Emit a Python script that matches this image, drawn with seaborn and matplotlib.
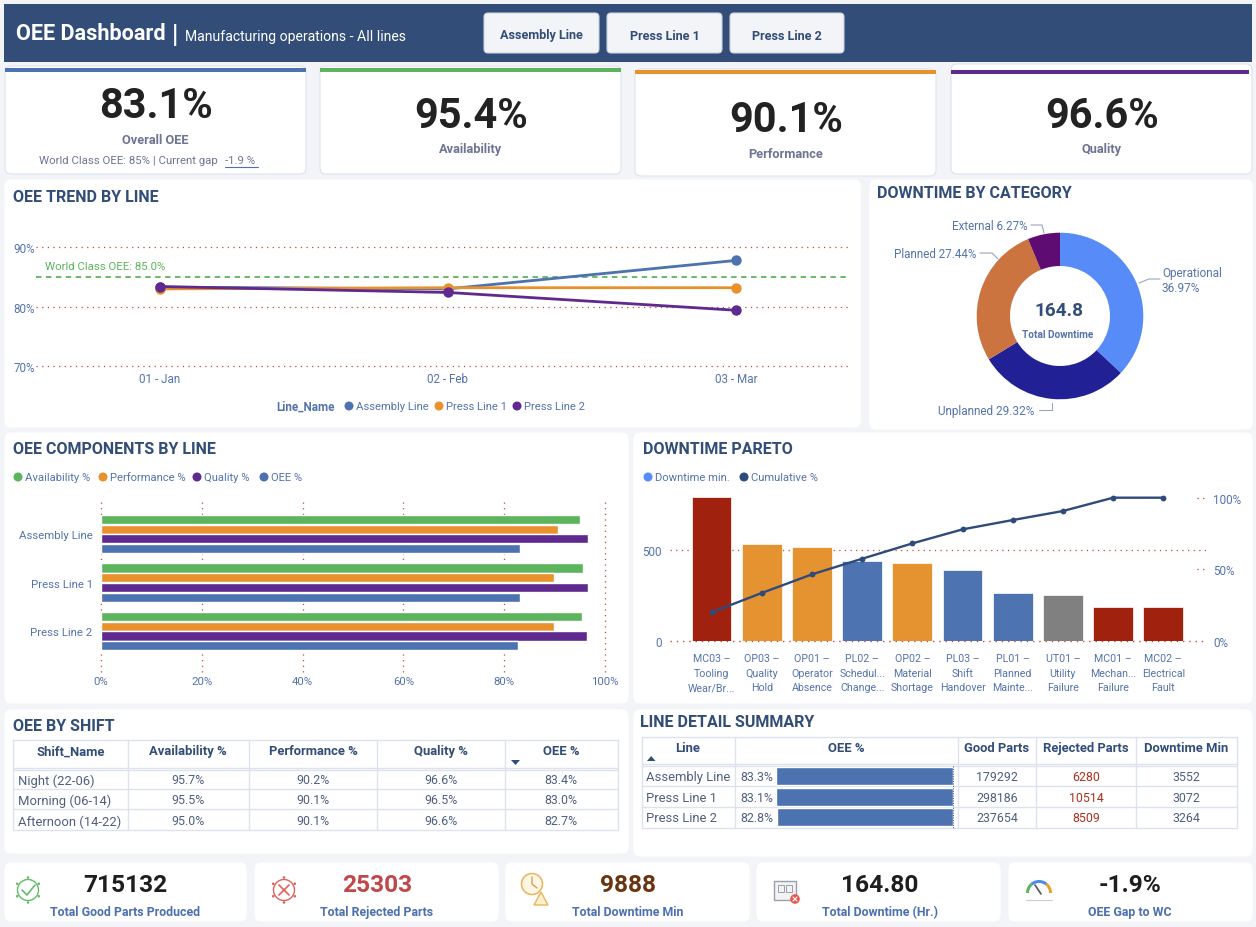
import pandas as pd
import numpy as np
import matplotlib
matplotlib.use("Agg")
import matplotlib.pyplot as plt
from matplotlib.patches import FancyBboxPatch, Rectangle, Circle, Wedge, Polygon
import seaborn as sns

# Dados
linhas = ["Assembly Line", "Press Line 1", "Press Line 2"]
meses = ["01 - Jan", "02 - Feb", "03 - Mar"]
oee_assembly = [83.3, 83.0, 87.8]
oee_press1 = [83.0, 83.2, 83.2]
oee_press2 = [83.4, 82.4, 79.4]
world_class = 85.0

componentes = ["Availability %", "Performance %", "Quality %", "OEE %"]
disponibilidade = [95.0, 95.7, 95.4]
performance = [90.7, 89.9, 89.8]
qualidade = [96.6, 96.6, 96.5]
oee_linha = [83.2, 83.1, 82.8]

categorias_down = ["Operational", "Unplanned", "Planned", "External"]
down_pct = [36.97, 29.32, 27.44, 6.27]

causas = ["MC03 –\nTooling\nWear/Br...", "OP03 –\nQuality\nHold", "OP01 –\nOperator\nAbsence",
          "PL02 –\nSchedul...\nChange...", "OP02 –\nMaterial\nShortage", "PL03 –\nShift\nHandover",
          "PL01 –\nPlanned\nMainte...", "UT01 –\nUtility\nFailure", "MC01 –\nMechan...\nFailure",
          "MC02 –\nElectrical\nFault"]
causa_tipo = ["Unplanned", "Operational", "Operational", "Planned", "Operational", "Planned",
              "Planned", "External", "Unplanned", "Unplanned"]
down_min = [792, 536, 516, 441, 428, 391, 264, 251, 189, 189]
acumulado = [20, 33.5, 46.5, 57.4, 68.1, 77.9, 84.4, 90.7, 100, 100]

turno_header = ["Shift_Name", "Availability %", "Performance %", "Quality %", "OEE %"]
turnos = ["Night (22-06)", "Morning (06-14)", "Afternoon (14-22)"]
turno_disp = ["95.7%", "95.5%", "95.0%"]
turno_perf = ["90.2%", "90.1%", "90.1%"]
turno_qual = ["96.6%", "96.5%", "96.6%"]
turno_oee = ["83.4%", "83.0%", "82.7%"]

detalhe_oee = [83.3, 83.1, 82.8]
detalhe_bons = [179292, 298186, 237654]
detalhe_rej = [6280, 10514, 8509]
detalhe_down = [3552, 3072, 3264]

# Cores
FUNDO = "#F3F4F8"
NAVY = "#324D77"
AZUL = "#4C72B0"
TEXTO = "#5573AC"
LARANJA = "#E8912D"
ROXO = "#5F2A8F"
VERDE = "#5CB45C"
GRADE = "#C8473A"
BORDA = "#DDE3EE"
CINZA = "#6E7592"

sns.set_theme(style="white")
plt.rcParams["font.family"] = ["Roboto", "DejaVu Sans"]

fig = plt.figure(figsize=(12.56, 9.28), dpi=100, facecolor=FUNDO)

# Camada de fundo em pixels
bg = fig.add_axes([0, 0, 1, 1], zorder=0)
bg.set_xlim(0, 1256)
bg.set_ylim(927, -1)
bg.axis("off")


def px(v):
    return v * 0.72


def texto(x, y, s, size=12, color=TEXTO, weight="normal", ha="center", **kw):
    return bg.text(x, y, s, fontsize=px(size), color=color, fontweight=weight, ha=ha, va="center", **kw)


def painel(x0, y0, x1, y1, cor="white", borda=None, r=6):
    bg.add_patch(FancyBboxPatch((x0, y0), x1 - x0, y1 - y0, boxstyle=f"round,pad=0,rounding_size={r}",
                                fc=cor, ec=borda if borda else cor, lw=0.8))


def eixo(x0, y0, x1, y1):
    a = fig.add_axes([x0 / 1256, 1 - y1 / 928, (x1 - x0) / 1256, (y1 - y0) / 928], zorder=2)
    a.patch.set_alpha(0)
    sns.despine(ax=a, left=True, bottom=True)
    return a


def legenda(y, itens):
    for x, cor, nome in itens:
        bg.add_patch(Circle((x, y), 4.5, fc=cor, ec="none"))
        texto(x + 7, y, nome, size=11.3, ha="left")


# Cabecalho
bg.add_patch(Rectangle((4, 4), 1248, 58, fc=NAVY, ec="none"))
texto(16, 33, "OEE Dashboard", size=21.7, color="white", weight="bold", ha="left")
texto(172, 35, "|", size=25, color="white", weight="bold", ha="left")
texto(185, 36, "Manufacturing operations - All lines", size=14, color="white", ha="left")
for x0, x1, nome in [(484, 599, linhas[0]), (607, 722, linhas[1]), (730, 844, linhas[2])]:
    painel(x0, 13, x1, 53, cor=FUNDO, borda="#C9D2E3", r=4)
    texto((x0 + x1) / 2, 35, nome, size=12.6, color=NAVY, weight="bold")

# Cartoes KPI
kpis = [(5, 66, 306, 174, 68, AZUL, "83.1%", 105, "Overall OEE", 140),
        (320, 66, 621, 174, 68, VERDE, "95.4%", 116, "Availability", 149),
        (635, 69, 936, 176, 70, LARANJA, "90.1%", 120, "Performance", 154),
        (951, 64, 1252, 174, 70, ROXO, "96.6%", 116, "Quality", 149)]
for x0, y0, x1, y1, yb, cor, valor, yv, nome, yn in kpis:
    painel(x0, y0, x1, y1, borda=BORDA)
    bg.add_patch(Rectangle((x0, yb), x1 - x0 - (3 if x0 > 900 else 0), 3.5, fc=cor, ec="none"))
    texto((x0 + x1) / 2 + 0.5, yv, valor, size=41.5, color="#222222", weight="bold")
    texto((x0 + x1) / 2, yn, nome, size=12.8, color=CINZA, weight="bold")
texto(39, 160, "World Class OEE: 85% | Current gap", size=11.4, color=CINZA, ha="left")
texto(225, 160, "-1.9 %", size=11.4, color=CINZA, ha="left")
bg.plot([225, 258], [167, 167], color=AZUL, lw=0.8)

# Paineis
for p in [(5, 180, 860, 427), (870, 180, 1252, 429), (5, 433, 628, 703), (634, 433, 1252, 703),
          (5, 710, 628, 853), (634, 710, 1252, 856)]:
    painel(*p)
for x, y, nome in [(13, 196, "OEE TREND BY LINE"), (877, 192, "DOWNTIME BY CATEGORY"),
                   (13, 449, "OEE COMPONENTS BY LINE"), (643, 449, "DOWNTIME PARETO"),
                   (13, 726, "OEE BY SHIFT"), (640, 722, "LINE DETAIL SUMMARY")]:
    texto(x, y, nome, size=16, color=NAVY, weight="bold", ha="left")

# Tendencia OEE
df_trend = pd.DataFrame({
    "mes": meses * 3,
    "oee": oee_assembly + oee_press1 + oee_press2,
    "linha": np.repeat(linhas, 3),
})
ax = eixo(36, 230, 850, 367)
sns.lineplot(data=df_trend, x="mes", y="oee", hue="linha", palette=[AZUL, LARANJA, ROXO], sort=False,
             marker="o", markersize=7.5, markeredgewidth=0, linewidth=2, legend=False, ax=ax, zorder=3)
ax.set_xlim(-0.43, 2.396)
ax.set_ylim(70, 93.1)
ax.set_yticks([70, 80, 90], ["70%", "80%", "90%"])
ax.set_xlabel("")
ax.set_ylabel("")
ax.tick_params(length=0, labelsize=px(11.6), labelcolor=TEXTO)
ax.tick_params(axis="y", pad=1)
ax.tick_params(axis="x", pad=4)
for v in [70, 80, 90]:
    ax.axhline(v, color=GRADE, lw=0.9, ls=(0, (1, 3.5)), zorder=1, clip_on=False)
ax.axhline(world_class, color=VERDE, lw=1.3, ls=(0, (3, 2.5)), zorder=2)
texto(45, 266, f"World Class OEE: {world_class:.1f}%", size=11.4, color=VERDE, ha="left")
texto(276, 406, "Line_Name", size=11.6, weight="bold", ha="left")
legenda(406, [(349, AZUL, linhas[0]), (439, LARANJA, linhas[1]), (517, ROXO, linhas[2])])

# Rosca
ax = eixo(960, 217, 1160, 417)
ax.pie(down_pct, startangle=90, counterclock=False, radius=83.3 / 100,
       colors=["#568BF8", "#222095", "#CB7440", "#5E0B72"],
       wedgeprops={"width": 33.3 / 100, "edgecolor": "none"}, center=(0, 0))
ax.set_xlim(-1, 1)
ax.set_ylim(-1, 1)
texto(1059, 310, "164.8", size=19, color=NAVY, weight="bold")
texto(1058, 334, "Total Downtime", size=10, color=TEXTO, weight="bold")
for xs, ys in [([1139, 1149, 1160], [283, 279, 279]), ([1052, 1052, 1039], [403, 410, 410]),
               ([998, 992, 980], [259, 253, 253]), ([1044, 1042, 1031], [233, 225, 225])]:
    bg.plot(xs, ys, color="#9AA5BE", lw=0.8, zorder=1)
texto(1162, 273, categorias_down[0], size=11.8, ha="left")
texto(1162, 288, f"{down_pct[0]:.2f}%", size=11.8, ha="left")
texto(938, 411, f"{categorias_down[1]} {down_pct[1]:.2f}%", size=11.8, ha="left")
texto(894, 254, f"{categorias_down[2]} {down_pct[2]:.2f}%", size=11.6, ha="left")
texto(952, 226, f"{categorias_down[3]} {down_pct[3]:.2f}%", size=11.6, ha="left")

# Componentes
df_comp = pd.DataFrame({
    "linha": linhas * 4,
    "comp": np.repeat(componentes, 3),
    "valor": disponibilidade + performance + qualidade + oee_linha,
})
ax = eixo(101, 500, 605, 673)
sns.barplot(data=df_comp, y="linha", x="valor", hue="comp", palette=[VERDE, LARANJA, ROXO, AZUL],
            width=0.8, gap=0.06, legend=False, ax=ax, zorder=3, saturation=1, orient="h")
ax.set_xlim(0, 100)
ax.set_ylim((673 - 535) / 48.6, -(535 - 500) / 48.6)
ax.set_xticks([0, 20, 40, 60, 80, 100], ["0%", "20%", "40%", "60%", "80%", "100%"])
ax.set_xlabel("")
ax.set_ylabel("")
ax.tick_params(length=0, labelsize=px(11.4), labelcolor=TEXTO)
ax.tick_params(axis="y", pad=6)
ax.tick_params(axis="x", pad=3)
for v in [0, 20, 40, 60, 80, 100]:
    ax.axvline(v, color=GRADE, lw=0.9, ls=(0, (1, 3.5)), zorder=1, clip_on=False)
legenda(477, [(18, VERDE, componentes[0]), (103, LARANJA, componentes[1]),
              (197, ROXO, componentes[2]), (264, AZUL, componentes[3])])

# Pareto
df_par = pd.DataFrame({"causa": causas, "tipo": causa_tipo, "minutos": down_min, "acum": acumulado})
ax = eixo(670, 490, 1206, 642)
ax.axhline(500, color=GRADE, lw=0.9, ls=(0, (1, 3.5)), zorder=1)
ax.axhline(0, color=GRADE, lw=1, ls=(0, (1, 3.5)), zorder=1, clip_on=False)
sns.barplot(data=df_par, x="causa", y="minutos", hue="tipo", dodge=False, width=0.79, saturation=1,
            palette={"Unplanned": "#A0220E", "Operational": "#E59230", "Planned": "#4D73B0", "External": "#808080"},
            edgecolor="white", linewidth=0.5, legend=False, ax=ax, zorder=2)
ax.set_xlim(-0.827, 9.85)
ax.set_ylim(0, 838)
ax.set_yticks([0, 500], ["0", "500"])
ax.set_xlabel("")
ax.set_ylabel("")
ax.tick_params(length=0, labelsize=px(11.6), labelcolor=TEXTO)
ax.tick_params(axis="y", pad=6)
ax.tick_params(axis="x", labelsize=px(10.6), pad=9)
for lbl in ax.get_xticklabels():
    lbl.set_linespacing(1.55)
ax2 = ax.twinx()
ax2.patch.set_alpha(0)
sns.despine(ax=ax2, left=True, bottom=True, right=True)
sns.lineplot(data=df_par, x="causa", y="acum", sort=False, color="#2F4B7C", marker="o", markersize=4.2,
             markeredgewidth=0, linewidth=1.7, ax=ax2, zorder=4)
ax2.set_xlim(-0.827, 9.85)
ax2.set_ylim(0, 106.07)
ax2.set_yticks([0, 50, 100], ["0%", "50%", "100%"])
ax2.set_ylabel("")
ax2.tick_params(length=0, labelsize=px(11.6), labelcolor=TEXTO, pad=5)
for v in [50, 100]:
    ax2.plot([9.68, 9.85], [v, v], color=GRADE, lw=0.9, ls=(0, (1, 3.5)))
legenda(477, [(648, "#568BF8", "Downtime min."), (744, "#2F4B7C", "Cumulative %")])


def tabela_linhas(xs, y_topo, y_base, ys):
    for x in xs:
        bg.plot([x, x], [y_topo, y_base], color=BORDA, lw=1)
    for y in ys:
        bg.plot([xs[0], xs[-1]], [y, y], color=BORDA, lw=1)


# Tabela de turnos
xs = [13, 127.5, 249, 377, 505, 617.5]
tabela_linhas(xs, 740, 830, [740, 767.7, 769.5, 789.3, 809.3, 830.3])
for i, nome in enumerate(turno_header):
    texto((xs[i] + xs[i + 1]) / 2, 751, nome, size=13, color=NAVY, weight="bold")
bg.add_patch(Polygon([[511, 760], [520, 760], [515.5, 765]], fc=NAVY, ec="none"))
for i, ny in enumerate([780, 800, 821]):
    texto(18, ny, turnos[i], size=13, color="#4F5F80", ha="left")
    for j, col in enumerate([turno_disp, turno_perf, turno_qual, turno_oee]):
        texto((xs[j + 1] + xs[j + 2]) / 2, ny, col[i], size=12.4, color="#4F5F80")

# Tabela detalhe
xs = [641.5, 734.5, 957.5, 1036, 1136, 1237]
tabela_linhas(xs, 736.5, 827.5, [736.5, 764, 766, 785.7, 806.7, 827.5])
for i, nome in enumerate(["Line", "OEE %", "Good Parts", "Rejected Parts", "Downtime Min"]):
    texto((xs[i] + xs[i + 1]) / 2, 748, nome, size=13, color=NAVY, weight="bold")
bg.add_patch(Polygon([[647, 761], [655.5, 761], [651.2, 756]], fc=NAVY, ec="none"))
for i, ny in enumerate([777, 797.5, 818]):
    texto(646.5, ny, linhas[i], size=13, color="#4F5F80", ha="left")
    texto(740, ny, f"{detalhe_oee[i]:.1f}%", size=12.4, color="#4F5F80", ha="left")
    texto(997, ny, str(detalhe_bons[i]), size=12.4, color="#4F5F80")
    texto(1086, ny, str(detalhe_rej[i]), size=12.4, color="#B0301E")
    texto(1186.5, ny, str(detalhe_down[i]), size=12.4, color="#4F5F80")
ax = eixo(775.6, 767, 953, 828.5)
sns.barplot(x=detalhe_oee, y=linhas, color=AZUL, saturation=1, width=0.87, ax=ax, orient="h")
ax.set_xlim(83.3, 0)
ax.set_ylim(2.5, -0.5)
ax.set_xticks([])
ax.set_yticks([])
bg.plot([953.3, 953.3], [766, 827.5], color=NAVY, lw=0.7, ls=(0, (1, 1.5)), zorder=5)

# Cartoes inferiores
rodape = [(5, 246, 125, "715132", "#1E1E1E", "Total Good Parts Produced"),
          (255, 498, 377, "25303", "#C0474A", "Total Rejected Parts"),
          (506, 749, 628, "9888", "#6B3410", "Total Downtime Min"),
          (757, 1000, 880, "164.80", "#1E1E1E", "Total Downtime (Hr.)"),
          (1009, 1252, 1130, "-1.9%", "#1E1E1E", "OEE Gap to WC")]
for x0, x1, xc, valor, cor, nome in rodape:
    painel(x0, 863, x1, 921)
    texto(xc, 885, valor, size=24.5, color=cor, weight="bold")
    texto(xc, 912, nome, size=12.4, color="#4C70B2", weight="bold")

# Icones
for cx, cy, cor in [(28, 890, "#66BB6A"), (284, 890, "#E0605A")]:
    bg.add_patch(Circle((cx, cy), 10.5, fc="none", ec=cor, lw=1))
    for ang in np.deg2rad(np.arange(0, 360, 60) + 30):
        bg.add_patch(Circle((cx + 12.5 * np.cos(ang), cy + 12.5 * np.sin(ang)), 1.3, fc=cor, ec="none"))
bg.plot([22, 27, 35], [890, 895, 885], color="#66BB6A", lw=1.2)
bg.plot([279, 289], [885, 895], color="#E0605A", lw=1.2)
bg.plot([279, 289], [895, 885], color="#E0605A", lw=1.2)
bg.add_patch(Circle((532, 884), 10.5, fc="#FFF6E5", ec="#EDB45A", lw=1.1))
bg.plot([532, 532, 537], [877, 884, 888], color="#C99A50", lw=0.9)
bg.add_patch(Polygon([[534, 905], [548, 905], [541, 892]], fc="#FFF1CC", ec="#EDB45A", lw=1))
bg.add_patch(Rectangle((774, 881), 22, 19, fc="#F2F3F5", ec="#9A9FAB", lw=1))
bg.add_patch(Rectangle((778, 885), 6, 7, fc="none", ec="#9A9FAB", lw=0.7))
bg.add_patch(Rectangle((786, 885), 6, 7, fc="none", ec="#9A9FAB", lw=0.7))
bg.add_patch(Circle((795, 899), 4.8, fc="#E25A50", ec="none"))
bg.plot([793, 797], [897, 901], color="white", lw=0.8)
bg.plot([793, 797], [901, 897], color="white", lw=0.8)
for t1, t2, cor in [(180, 230, "#5CB45C"), (230, 310, "#4C8BE8"), (310, 360, "#E8A02D")]:
    bg.add_patch(Wedge((1039, 893), 13, t1, t2, width=3, fc=cor, ec="none"))
bg.plot([1035, 1041], [885, 894], color="#555555", lw=1.2)
bg.plot([1026, 1052], [900, 900], color="#C9CEDA", lw=0.8)

fig.savefig("out.png", dpi=100, facecolor=FUNDO)
plt.close(fig)
